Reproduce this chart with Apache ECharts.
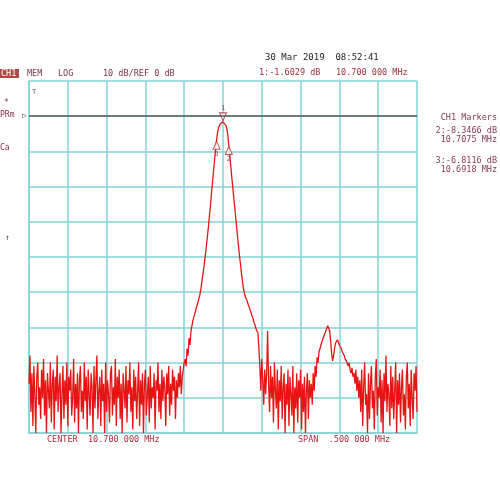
<!DOCTYPE html>
<html>
<head>
<meta charset="utf-8">
<script src="https://cdn.jsdelivr.net/npm/echarts@6/dist/echarts.min.js"></script>
<style>
html,body{margin:0;padding:0;background:#fff;}
#chart{width:500px;height:500px;}
</style>
</head>
<body>
<div id="chart"></div>
<script>
// Sweep settings
const CENTER_MHZ = 10.7;
const SPAN_MHZ = 0.5;
const POINTS = 401;

// Trace values (dB), left to right
const floorLeft = [
 -76,-68,-84,-73,-88,-71,-79,-90,-74,-70,
 -82,-77,-86,-72,-80,-69,-85,-75,-90,-73,
 -78,-83,-70,-87,-76,-72,-89,-74,-81,-68,
 -84,-77,-73,-90,-79,-71,-86,-75,-82,-70,
 -88,-74,-78,-72,-85,-80,-69,-87,-76,-83,
 -73,-90,-75,-71,-84,-78,-86,-70,-81,-74,
 -89,-72,-79,-85,-73,-77,-90,-71,-83,-75,
 -68,-86,-78,-74,-88,-72,-81,-76,-90,-70,
 -84,-75,-79,-87,-73,-71,-85,-77,-82,-69,
 -88,-74,-80,-72,-86,-76,-90,-73,-78,-83,
 -71,-87,-75,-79,-70,-84,-77,-89,-72,-81,
 -74,-86,-78,-70,-88,-75,-82,-73,-90,-76,
 -72,-85,-79,-74,-87,-71,-83,-77,-80,-73,
 -89,-75,-78,-70,-84,-76,-86,-72,-81,-74,
 -77,-88,-73,-79,-71,-85,-76,-82,-72,-78,
 -74,-86,-75,-80,-73,-77,-71,-79,-74,-72,
 -70
];
const mainLobe = [
 -69,-71,-66,-68,-63,-65,-61,-60.5,-58,-58.5,
 -56,-56.5,-54,-53.5,-52,-51,-49.5,-47.5,-45.5,-43.5,
 -41.3,-39,-36.6,-34,-31.3,-28.3,-25.5,-22.3,-19.2,-16.3,
 -13.3,-10.4,-7.6,-5.4,-3.9,-2.9,-2.2,-1.85,-1.65,-1.6029,
 -1.7,-2.0,-2.6,-3.6,-5.4,-8.3466,-11.2,-14.2,-17.2,-20.0,
 -22.8,-25.6,-28.5,-31.4,-34.3,-37,-39.6,-42,-44.5,-46.8,
 -48.8,-50.2,-51.2,-52,-52.6,-53.5,-54.2,-55.1,-55.8,-56.8,
 -57.5,-58.6,-59.3,-60.4,-61,-61.6,-66
];
const floorMid = [
 -71,-78,-69,-75,-82,-72,-79,-73,-61,-76,
 -84,-71,-80,-74,-87,-70,-78,-83,-72,-89,
 -75,-81,-71,-86,-77,-73,-90,-76,-82,-72,
 -88,-74,-79,-85,-71,-90,-77,-83,-73,-87,
 -75,-80,-72,-89,-76,-84,-74,-90,-78,-73,
 -86,-75,-80
];
const spur = [
 -76,-82,-73,-78,-71,-74,-68.5,-70,-67,-67.5,
 -65,-64,-64.5,-62.5,-62,-61,-60.5,-59.5,-59,-61,
 -64,-67.5,-69.5,-68,-66,-64.5,-64,-63.5,-64,-65,
 -64.8,-66,-67,-66.5,-68,-69,-68.5,-70,-71,-70,
 -72,-73,-71.5,-74,-73,-76,-72,-78,-74,-80
];
const floorRight = [
 -75,-84,-72,-88,-77,-70,-82,-79,-90,-73,
 -86,-76,-71,-83,-78,-89,-74,-69,-85,-77,
 -80,-72,-87,-75,-90,-73,-81,-68,-84,-76,
 -79,-88,-71,-83,-74,-86,-78,-70,-90,-75,
 -82,-73,-87,-77,-72,-85,-79,-89,-74,-70,
 -83,-76,-88,-72,-80,-86,-73,-78,-71,-84
];

// Markers
const markerNames = ['1','2','3'];
const markerFreqMHz = [10.7, 10.7075, 10.6918];
const markerDb = [-1.6029, -8.3466, -6.8116];

// Axis setup (x in kHz offset from center)
const X_MIN = -250, X_MAX = 250, X_STEP = 50;
const Y_MIN = -90, Y_MAX = 10, Y_STEP = 10;
const REF_DB = 0;

const traceDb = [].concat(floorLeft, mainLobe, floorMid, spur, floorRight);
const stepKHz = SPAN_MHZ * 1000 / (POINTS - 1);
const trace = traceDb.map((v, i) => [X_MIN + i * stepKHz, v]);
const markers = markerFreqMHz.map((f, k) => ({
  value: [Math.round((f - CENTER_MHZ) * 1e5) / 100, markerDb[k]],
  name: markerNames[k]
}));

const GRID = '#84d2d6';
const TXT = '#a3303f';
const FONT = '"DejaVu Sans Mono", monospace';

function txt(x, y, s, color, size, align) {
  return {
    type: 'text', x: x, y: y, silent: true,
    style: { text: s, fill: color, font: (size || 8.5) + 'px ' + FONT,
             textAlign: align || 'left', textVerticalAlign: 'middle' }
  };
}

const chart = echarts.init(document.getElementById('chart'), null, {renderer: 'canvas'});
chart.setOption({
  animation: false,
  backgroundColor: '#ffffff',
  grid: { left: 29, right: 83, top: 81, bottom: 67 },
  xAxis: {
    type: 'value', min: X_MIN, max: X_MAX, interval: X_STEP,
    axisLabel: { show: false }, axisTick: { show: false },
    axisLine: { show: true, onZero: false, lineStyle: { color: GRID, width: 1.5 } },
    splitLine: { show: true, lineStyle: { color: GRID, width: 1.5 } }
  },
  yAxis: {
    type: 'value', min: Y_MIN, max: Y_MAX, interval: Y_STEP,
    axisLabel: { show: false }, axisTick: { show: false },
    axisLine: { show: true, onZero: false, lineStyle: { color: GRID, width: 1.5 } },
    splitLine: { show: true, lineStyle: { color: GRID, width: 1.5 } }
  },
  series: [
    {
      type: 'line', data: trace, symbol: 'none', silent: true,
      lineStyle: { color: '#e81414', width: 1.3 },
      markLine: {
        silent: true, symbol: 'none', animation: false,
        label: { show: false },
        lineStyle: { color: '#5a5a5a', width: 1.5, type: 'solid' },
        data: [{ yAxis: REF_DB }]
      },
      z: 3
    },
    {
      type: 'scatter', silent: true, z: 4,
      data: markers.map((m, k) => ({
        value: m.value,
        symbol: 'triangle',
        symbolRotate: k === 0 ? 180 : 0,
        symbolSize: [7, 8],
        symbolOffset: k === 0 ? [0, -5] : [0, 5],
        label: {
          show: true, formatter: m.name,
          position: k === 0 ? 'top' : 'bottom',
          distance: 1, color: '#8a2a2a', fontSize: 7, fontFamily: FONT
        }
      })),
      itemStyle: { color: '#ffffff', borderColor: '#a03030', borderWidth: 1 }
    }
  ],
  graphic: [
    txt(265, 58, '30 Mar 2019  08:52:41', '#222222', 9),
    { type: 'rect', x: 0, y: 69, shape: { width: 19, height: 9 }, style: { fill: '#b04848' }, silent: true },
    txt(1, 73.5, 'CH1', '#ffffff', 8.5),
    txt(27, 74, 'MEM', '#7a3545', 8.5),
    txt(58, 74, 'LOG', '#7a3545', 8.5),
    txt(103, 74, '10 dB/REF 0 dB', '#7a3545', 8.5),
    txt(259, 73, '1:-1.6029 dB', TXT, 8.5),
    txt(336, 73, '10.700 000 MHz', TXT, 8.5),
    txt(4, 103, '*', '#8a2a4a', 8),
    txt(0, 115, 'PRm', '#8a2a4a', 8),
    txt(0, 148, 'Ca', '#8a2a4a', 8),
    txt(5, 238, '↑', '#8a2a4a', 8),
    txt(32, 92, 'T', '#555555', 7),
    txt(22, 116, '▷', '#555555', 8),
    txt(497, 118, 'CH1 Markers', '#8a3a5a', 8.5, 'right'),
    txt(497, 131, '2:-8.3466 dB', '#8a3a5a', 8.5, 'right'),
    txt(497, 140, '10.7075 MHz', '#8a3a5a', 8.5, 'right'),
    txt(497, 161, '3:-6.8116 dB', '#8a3a5a', 8.5, 'right'),
    txt(497, 170, '10.6918 MHz', '#8a3a5a', 8.5, 'right'),
    txt(47, 440, 'CENTER  10.700 000 MHz', TXT, 8.5),
    txt(298, 440, 'SPAN  .500 000 MHz', TXT, 8.5)
  ]
});
</script>
</body>
</html>
